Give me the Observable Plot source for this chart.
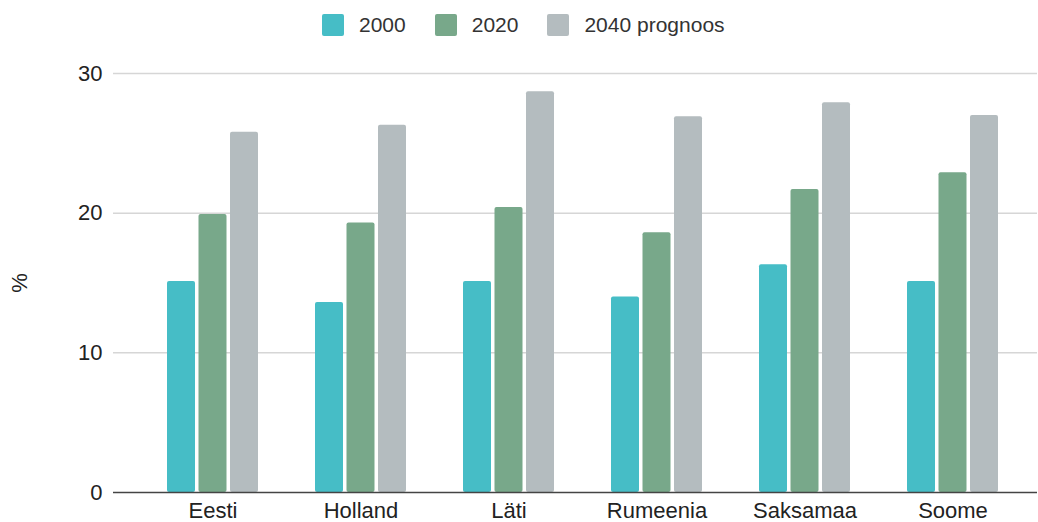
<!DOCTYPE html>
<html>
<head>
<meta charset="utf-8">
<script src="https://cdn.jsdelivr.net/npm/d3@7"></script>
<script src="https://cdn.jsdelivr.net/npm/@observablehq/plot@0.6"></script>
<style>
  html, body { margin: 0; padding: 0; background: #fff; }
  body { width: 1038px; height: 522px; overflow: hidden; font-family: "Liberation Sans", Arial, sans-serif; }
  #legend { height: 50px; display: flex; align-items: center; padding-left: 322px; box-sizing: border-box; font-size: 21px; color: #333; }
  .item { display: flex; align-items: center; margin-right: 29px; }
  .swatch { width: 22px; height: 22px; border-radius: 2px; margin-right: 15px; }
  #chart svg { display: block; }
</style>
</head>
<body>
<div id="legend"></div>
<div id="chart"></div>
<script>
// Share of population (%) per country, for three years
const countries = ["Eesti", "Holland", "Läti", "Rumeenia", "Saksamaa", "Soome"];
const seriesNames = ["2000", "2020", "2040 prognoos"];
const values2000 = [15.1, 13.6, 15.1, 14.0, 16.3, 15.1];
const values2020 = [19.9, 19.3, 20.4, 18.6, 21.7, 22.9];
const values2040 = [25.8, 26.3, 28.7, 26.9, 27.9, 27.0];
const yTicks = [0, 10, 20, 30];
const colors = ["#46bdc6", "#78a88a", "#b4bcbf"];

const seriesValues = [values2000, values2020, values2040];
const rows = seriesNames.map((s, i) =>
  countries.map((c, j) => ({country: c, series: s, value: seriesValues[i][j]}))
);

// Legend above the chart
const legend = document.getElementById("legend");
seriesNames.forEach((s, i) => {
  const item = document.createElement("div");
  item.className = "item";
  const sw = document.createElement("span");
  sw.className = "swatch";
  sw.style.background = colors[i];
  const label = document.createElement("span");
  label.textContent = s;
  item.append(sw, label);
  legend.append(item);
});

// Each series takes one third of its country's band; a small gap separates the bars
const barWidth = 28, barGap = 3.5;
const insets = [
  {insetLeft: 0, insetRight: 2 * (barWidth + barGap)},
  {insetLeft: barWidth + barGap, insetRight: barWidth + barGap},
  {insetLeft: 2 * (barWidth + barGap), insetRight: 0}
];

const chart = Plot.plot({
  width: 1038,
  height: 480,
  marginLeft: 113,
  marginRight: 1,
  marginTop: 23,
  marginBottom: 38,
  style: {fontFamily: "'Liberation Sans', Arial, sans-serif", fontSize: "22px", color: "#222", background: "#fff"},
  x: {
    type: "band",
    domain: countries,
    paddingInner: 0.385,
    paddingOuter: 0.1925,
    insetLeft: 25.5,
    insetRight: 10.5,
    label: null,
    tickSize: 0,
    tickPadding: 10
  },
  y: {
    domain: [0, 30],
    ticks: yTicks,
    tickSize: 0,
    tickPadding: 11,
    label: null
  },
  marks: [
    Plot.ruleY(yTicks.filter(t => t > 0), {stroke: "#d6d6d6", strokeWidth: 1.5}),
    ...rows.map((data, i) =>
      Plot.barY(data, {x: "country", y: "value", fill: colors[i], rx: 2, ...insets[i]})
    ),
    Plot.ruleY([0], {stroke: "#444", strokeWidth: 1.5}),
    // Axis title, rotated, left of the tick labels
    Plot.text(["%"], {frameAnchor: "left", textAnchor: "middle", rotate: -90, dx: -94, fontSize: 22, fill: "#222"})
  ]
});
document.getElementById("chart").append(chart);
</script>
</body>
</html>
